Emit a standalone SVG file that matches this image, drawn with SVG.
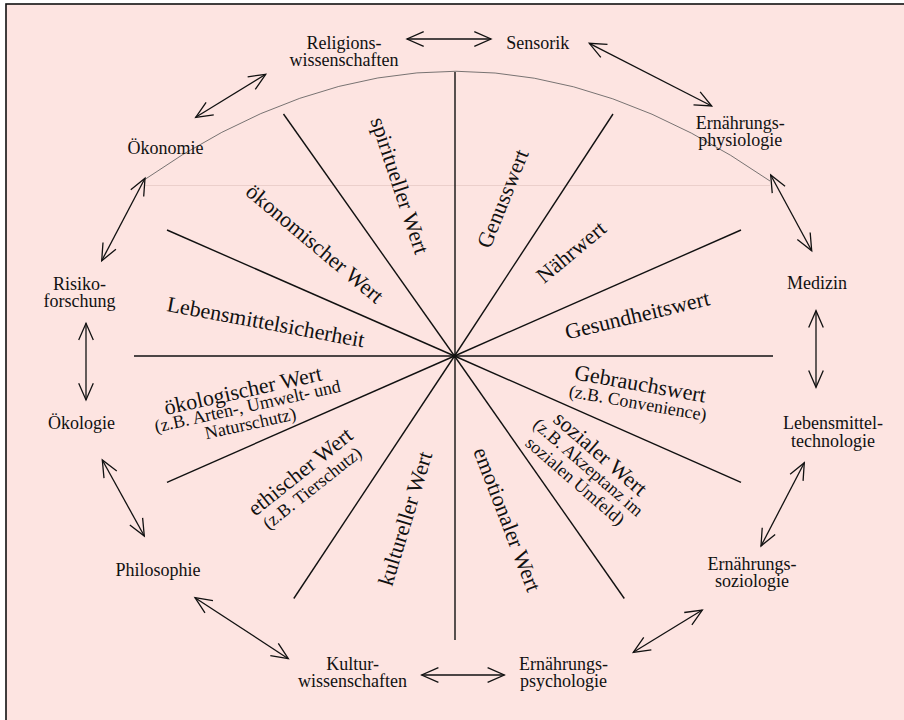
<svg xmlns="http://www.w3.org/2000/svg" width="904" height="720" viewBox="0 0 904 720">
<defs>
<style>
.node{font-family:"Liberation Serif","Times New Roman",serif;font-size:18px;fill:#111;text-anchor:middle}
.val{font-family:"Liberation Serif","Times New Roman",serif;font-size:22px;fill:#111;text-anchor:middle}
.sub{font-size:18px}
.spoke{stroke:#111;stroke-width:1.4;fill:none}
.conn{stroke:#111;stroke-width:1.3;fill:none;marker-start:url(#ah);marker-end:url(#ah)}
</style>
<marker id="ah" markerUnits="userSpaceOnUse" markerWidth="20" markerHeight="20" refX="0" refY="0" viewBox="-18 -9 20 18" orient="auto-start-reverse" overflow="visible">
<path d="M-16.7,-7.3 L0,0 L-16.7,7.3" fill="none" stroke="#111" stroke-width="1.3"/>
</marker>
</defs>
<rect x="0" y="0" width="904" height="720" fill="#ffffff"/>
<rect x="6" y="4" width="920" height="740" fill="#fde4e1" stroke="#111" stroke-width="1.6"/>

<g id="wheel">
<line x1="145" y1="185.5" x2="770" y2="185.5" stroke="#ebcfcb" stroke-width="1"/>
<path d="M144,180 Q455,-38 770,181" stroke="#555" stroke-width="0.8" fill="none"/>
<line class="spoke" x1="455" y1="72" x2="455" y2="640"/>
<line class="spoke" x1="134" y1="356" x2="773" y2="356"/>
<line class="spoke" x1="454.5" y1="356" x2="283.5" y2="114"/>
<line class="spoke" x1="454.5" y1="356" x2="613" y2="114"/>
<line class="spoke" x1="454.5" y1="356" x2="167" y2="230"/>
<line class="spoke" x1="454.5" y1="356" x2="741" y2="230"/>
<line class="spoke" x1="454.5" y1="356" x2="167" y2="482.3"/>
<line class="spoke" x1="454.5" y1="356" x2="741" y2="482.3"/>
<line class="spoke" x1="454.5" y1="356" x2="293.8" y2="598.5"/>
<line class="spoke" x1="454.5" y1="356" x2="624.3" y2="598.5"/>
<circle cx="454.5" cy="356" r="2" fill="#111"/>

<text class="val" transform="translate(398.5,186) rotate(71.5)" y="6">spiritueller Wert</text>
<text class="val" transform="translate(504,199) rotate(-68)" y="6">Genusswert</text>
<text class="val" transform="translate(572,253) rotate(-40)" y="6">Nährwert</text>
<text class="val" transform="translate(637.6,316.3) rotate(-13.5)" y="6">Gesundheitswert</text>
<text class="val" transform="translate(640,385) rotate(10)"><tspan x="0" y="6">Gebrauchswert</tspan><tspan class="sub" x="1" y="24">(z.B. Convenience)</tspan></text>
<text class="val" transform="translate(599.6,454.5) rotate(41)"><tspan x="0" y="6">sozialer Wert</tspan><tspan class="sub" x="0" y="23">(z.B. Akzeptanz im</tspan><tspan class="sub" x="-1" y="42">sozialen Umfeld)</tspan></text>
<text class="val" transform="translate(506,520) rotate(69)" y="6">emotionaler Wert</text>
<text class="val" transform="translate(406.5,518.8) rotate(-73)" y="6">kultureller Wert</text>
<text class="val" transform="translate(301,472.5) rotate(-38.5)"><tspan x="0" y="6">ethischer Wert</tspan><tspan class="sub" x="-1" y="25">(z.B. Tierschutz)</tspan></text>
<text class="val" transform="translate(243.3,391.7) rotate(-12.5)"><tspan x="0" y="6">ökologischer Wert</tspan><tspan class="sub" x="1" y="21">(z.B. Arten-, Umwelt- und</tspan><tspan class="sub" x="0" y="38.5">Naturschutz)</tspan></text>
<text class="val" transform="translate(265.5,323.3) rotate(10.5)" y="6">Lebensmittelsicherheit</text>
<text class="val" transform="translate(314,244.5) rotate(40)" y="6">ökonomischer Wert</text>
</g>

<g id="connectors">
<line class="conn" x1="407" y1="39" x2="491" y2="39"/>
<line class="conn" x1="589.3" y1="43.3" x2="711.7" y2="106"/>
<line class="conn" x1="770.7" y1="175" x2="811.7" y2="250.7"/>
<line class="conn" x1="816" y1="310.7" x2="816" y2="387.3"/>
<line class="conn" x1="804.3" y1="462.7" x2="761" y2="546"/>
<line class="conn" x1="702.3" y1="610" x2="633.3" y2="652.3"/>
<line class="conn" x1="421.7" y1="675" x2="504.3" y2="675"/>
<line class="conn" x1="195" y1="597.7" x2="288.3" y2="658.7"/>
<line class="conn" x1="102.3" y1="460" x2="144.3" y2="536"/>
<line class="conn" x1="86" y1="323.3" x2="86" y2="400"/>
<line class="conn" x1="101.7" y1="260.7" x2="145" y2="178.3"/>
<line class="conn" x1="195.7" y1="117.3" x2="265.7" y2="74.3"/>
</g>

<g id="religionswissenschaften"><text class="node"><tspan x="344" y="48.5">Religions-</tspan><tspan x="344" y="66">wissenschaften</tspan></text></g>
<g id="sensorik"><text class="node" x="537.7" y="49">Sensorik</text></g>
<g id="ernaehrungsphysiologie"><text class="node"><tspan x="740.3" y="129">Ernährungs-</tspan><tspan x="740.3" y="146.2">physiologie</tspan></text></g>
<g id="oekonomie"><text class="node" x="165.5" y="154.3">Ökonomie</text></g>
<g id="risikoforschung"><text class="node"><tspan x="79.5" y="289.5">Risiko-</tspan><tspan x="79.5" y="307">forschung</tspan></text></g>
<g id="medizin"><text class="node" x="817" y="289">Medizin</text></g>
<g id="oekologie"><text class="node" x="81.5" y="429.3">Ökologie</text></g>
<g id="lebensmitteltechnologie"><text class="node"><tspan x="833" y="428.7">Lebensmittel-</tspan><tspan x="833" y="446.9">technologie</tspan></text></g>
<g id="philosophie"><text class="node" x="158" y="575.7">Philosophie</text></g>
<g id="kulturwissenschaften"><text class="node"><tspan x="352.6" y="669.6">Kultur-</tspan><tspan x="352.6" y="687">wissenschaften</tspan></text></g>
<g id="ernaehrungssoziologie"><text class="node"><tspan x="752" y="570.2">Ernährungs-</tspan><tspan x="752" y="587.2">soziologie</tspan></text></g>
<g id="ernaehrungspsychologie"><text class="node"><tspan x="563.5" y="670.2">Ernährungs-</tspan><tspan x="563.5" y="687.2">psychologie</tspan></text></g>
</svg>
